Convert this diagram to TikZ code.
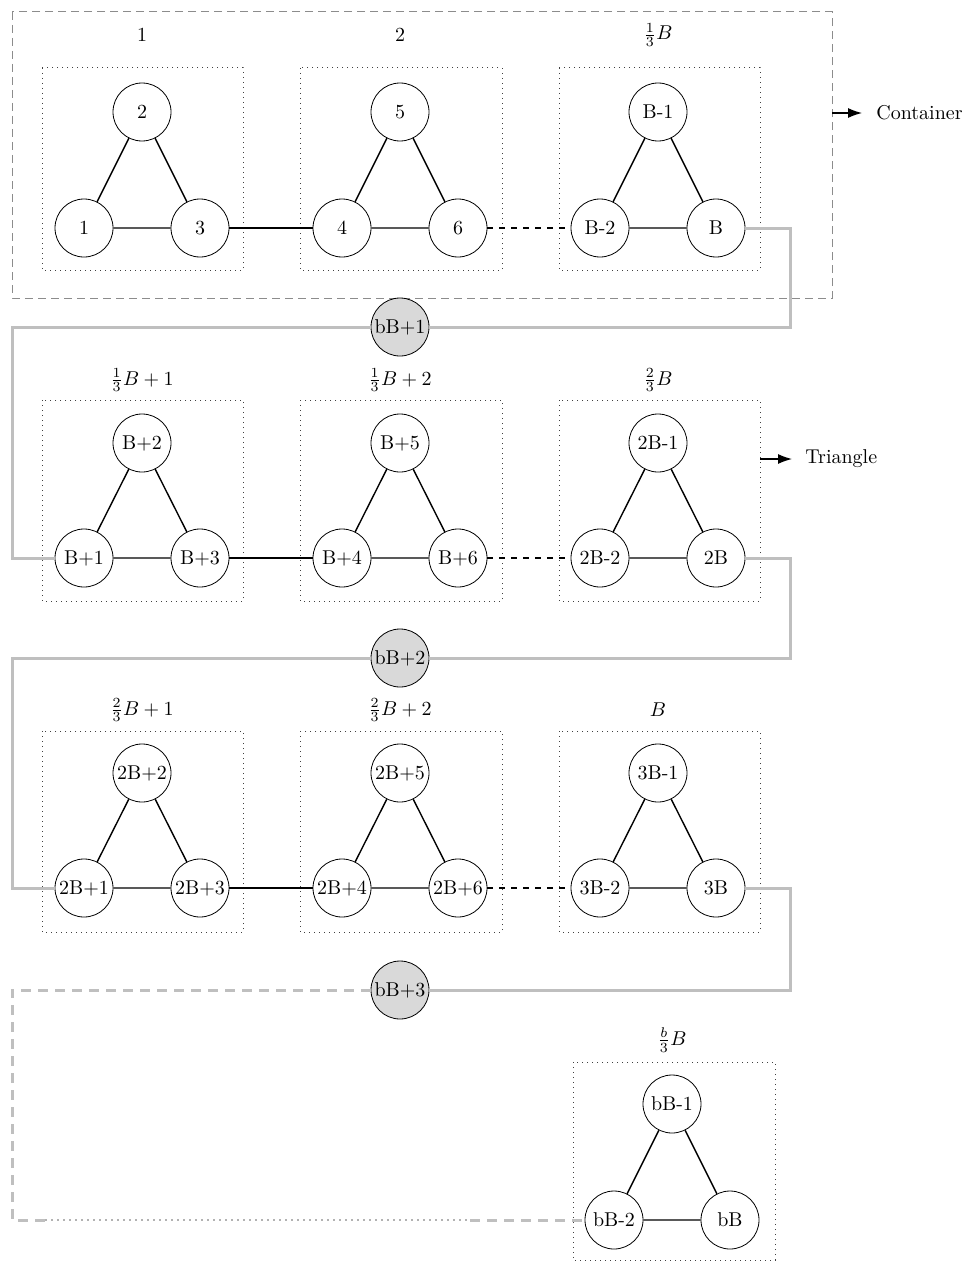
\documentclass[tikz,border=0pt]{standalone}
\usetikzlibrary{arrows.meta}

\begin{document}
\begin{tikzpicture}[x=0.5pt,y=-0.5pt,
  vert/.style={circle, draw, line width=0.4pt, minimum size=29pt, inner sep=0pt, fill=white},
  shared/.style={vert, fill=gray!30},
  tribox/.style={draw=black!75, dotted, line width=0.5pt},
  edge/.style={line width=0.7pt},
  link/.style={line width=1.5pt, gray!50},
  linkdash/.style={link, dash pattern=on 5pt off 3.5pt},
  linkdot/.style={line width=1pt, gray!60, dotted},
  tag/.style={inner sep=0pt}]
\useasboundingbox (0,0) rectangle (965,1263);
% container
\draw[gray!90, line width=0.5pt, dash pattern=on 4pt off 2.5pt] (12,12) rectangle (832,298);
\coordinate (contedge) at (832,113);
\coordinate (tribedge) at (760,459);
\coordinate (eastturn) at (790,0);
\coordinate (westturn) at (12,0);
% triangle boxes
\draw[tribox] (42,68) rectangle (243,270);
\draw[tribox] (300,68) rectangle (502,270);
\draw[tribox] (559,68) rectangle (760,270);
\draw[tribox] (42,400) rectangle (243,601);
\draw[tribox] (300,400) rectangle (502,601);
\draw[tribox] (559,400) rectangle (760,601);
\draw[tribox] (42,731) rectangle (243,932);
\draw[tribox] (300,731) rectangle (502,932);
\draw[tribox] (559,731) rectangle (760,932);
\draw[tribox] (573,1062) rectangle (775,1260);
% box labels
\node[tag] (lab11) at (142,35) {1};
\node[tag] (lab12) at (400,35) {2};
\node[tag] (lab13) at (658,35) {$\frac{1}{3}B$};
\node[tag] (lab21) at (142,380) {$\frac{1}{3}B+1$};
\node[tag] (lab22) at (400,380) {$\frac{1}{3}B+2$};
\node[tag] (lab23) at (658,380) {$\frac{2}{3}B$};
\node[tag] (lab31) at (142,710) {$\frac{2}{3}B+1$};
\node[tag] (lab32) at (400,710) {$\frac{2}{3}B+2$};
\node[tag] (lab33) at (658,710) {$B$};
\node[tag] (lab41) at (672,1040) {$\frac{b}{3}B$};
% row 1
\node[vert] (n1) at (84,228) {1};
\node[vert] (n2) at (142,112) {2};
\node[vert] (n3) at (200,228) {3};
\node[vert] (n4) at (342,228) {4};
\node[vert] (n5) at (400,112) {5};
\node[vert] (n6) at (458,228) {6};
\node[vert] (nBm2) at (600,228) {B-2};
\node[vert] (nBm1) at (658,112) {B-1};
\node[vert] (nB) at (716,228) {B};
% row 2
\node[vert] (Bp1) at (84,558) {B+1};
\node[vert] (Bp2) at (142,443) {B+2};
\node[vert] (Bp3) at (200,558) {B+3};
\node[vert] (Bp4) at (342,558) {B+4};
\node[vert] (Bp5) at (400,443) {B+5};
\node[vert] (Bp6) at (458,558) {B+6};
\node[vert] (tBm2) at (600,558) {2B-2};
\node[vert] (tBm1) at (658,443) {2B-1};
\node[vert] (tB) at (716,558) {2B};
% row 3
\node[vert] (tBp1) at (84,888) {2B+1};
\node[vert] (tBp2) at (142,773) {2B+2};
\node[vert] (tBp3) at (200,888) {2B+3};
\node[vert] (tBp4) at (342,888) {2B+4};
\node[vert] (tBp5) at (400,773) {2B+5};
\node[vert] (tBp6) at (458,888) {2B+6};
\node[vert] (hBm2) at (600,888) {3B-2};
\node[vert] (hBm1) at (658,773) {3B-1};
\node[vert] (hB) at (716,888) {3B};
% row 4
\node[vert] (bBm2) at (614,1220) {bB-2};
\node[vert] (bBm1) at (672,1104) {bB-1};
\node[vert] (bB) at (730,1220) {bB};
% shared nodes
\node[shared] (bB1) at (400,327) {bB+1};
\node[shared] (bB2) at (400,658) {bB+2};
\node[shared] (bB3) at (400,990) {bB+3};
% triangle edges
\draw[edge] (n1) -- (n2) -- (n3) -- (n1);
\draw[edge] (n4) -- (n5) -- (n6) -- (n4);
\draw[edge] (nBm2) -- (nBm1) -- (nB) -- (nBm2);
\draw[edge] (Bp1) -- (Bp2) -- (Bp3) -- (Bp1);
\draw[edge] (Bp4) -- (Bp5) -- (Bp6) -- (Bp4);
\draw[edge] (tBm2) -- (tBm1) -- (tB) -- (tBm2);
\draw[edge] (tBp1) -- (tBp2) -- (tBp3) -- (tBp1);
\draw[edge] (tBp4) -- (tBp5) -- (tBp6) -- (tBp4);
\draw[edge] (hBm2) -- (hBm1) -- (hB) -- (hBm2);
\draw[edge] (bBm2) -- (bBm1) -- (bB) -- (bBm2);
% links between triangles
\draw[edge] (n3) -- (n4);
\draw[edge, dashed] (n6) -- (nBm2);
\draw[edge] (Bp3) -- (Bp4);
\draw[edge, dashed] (Bp6) -- (tBm2);
\draw[edge] (tBp3) -- (tBp4);
\draw[edge, dashed] (tBp6) -- (hBm2);
% grey links
\draw[link] (nB.east) -- (eastturn |- nB) -- (eastturn |- bB1) -- (bB1.east);
\draw[link] (bB1.west) -- (westturn |- bB1) -- (westturn |- Bp1) -- (Bp1.west);
\draw[link] (tB.east) -- (eastturn |- tB) -- (eastturn |- bB2) -- (bB2.east);
\draw[link] (bB2.west) -- (westturn |- bB2) -- (westturn |- tBp1) -- (tBp1.west);
\draw[link] (hB.east) -- (eastturn |- hB) -- (eastturn |- bB3) -- (bB3.east);
\coordinate (gapL) at (45,1220);
\coordinate (gapR) at (470,1220);
\draw[linkdash] (bB3.west) -- (westturn |- bB3) -- (westturn |- bBm2) -- (gapL);
\draw[linkdot] (gapL) -- (gapR);
\draw[linkdash] (gapR) -- (bBm2.west);
% legend
\coordinate (conttip) at (862,113);
\coordinate (tribtip) at (792,459);
\draw[line width=0.6pt, -{Latex[length=7pt, width=5pt]}] (contedge) -- (conttip);
\node[tag, anchor=west] (contlab) at (876,113) {Container};
\draw[line width=0.6pt, -{Latex[length=7pt, width=5pt]}] (tribedge) -- (tribtip);
\node[tag, anchor=west] (triblab) at (805,459) {Triangle};
\end{tikzpicture}
\end{document}
